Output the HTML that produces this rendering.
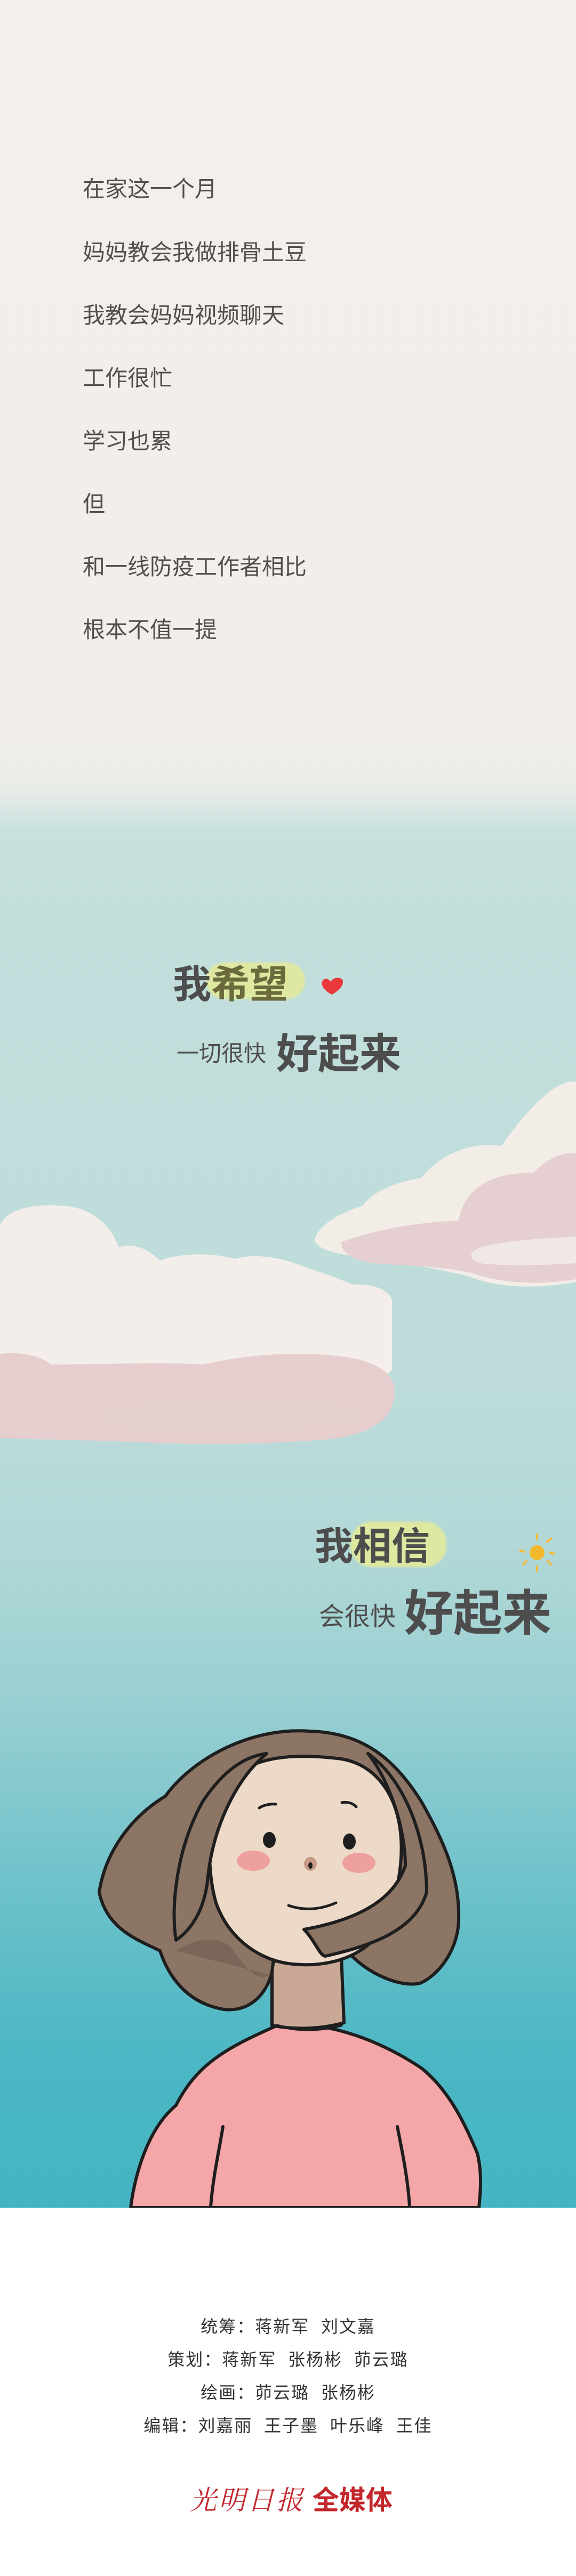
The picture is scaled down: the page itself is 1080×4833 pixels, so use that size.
<!DOCTYPE html>
<html><head><meta charset="utf-8">
<style>
*{margin:0;padding:0;box-sizing:border-box}
body{width:1080px;height:4833px;position:relative;overflow:hidden;font-family:"Liberation Sans","Noto Sans CJK SC",sans-serif;background:#fff}
#sky{position:absolute;left:0;top:0;width:1080px;height:4142px;background:linear-gradient(to bottom,#f3efeb 0px,#f2eeea 1380px,#e9ece8 1480px,#c8e0de 1560px,#c3dfdc 1700px,#bddcda 2600px,#b2d8d7 2900px,#98cfd2 3200px,#6cc1ca 3550px,#4cb7c4 3850px,#45b4c2 4142px)}
.t{position:absolute;color:#524e4a;white-space:nowrap;line-height:1}
.p{left:155px;font-size:42px}
.hl{position:absolute;background:#dfe8a0;border-radius:40px;filter:blur(2px)}
</style></head>
<body>
<div id="sky"></div>

<div class="t p" style="top:334px">在家这一个月</div>
<div class="t p" style="top:453px">妈妈教会我做排骨土豆</div>
<div class="t p" style="top:571px">我教会妈妈视频聊天</div>
<div class="t p" style="top:689px">工作很忙</div>
<div class="t p" style="top:807px">学习也累</div>
<div class="t p" style="top:925px">但</div>
<div class="t p" style="top:1043px">和一线防疫工作者相比</div>
<div class="t p" style="top:1161px">根本不值一提</div>

<svg style="position:absolute;left:0;top:0" width="1080" height="4142">
  <g>
    <path d="M590 2325 C600 2295 640 2275 680 2262 C700 2235 740 2218 790 2210 C820 2170 880 2140 940 2150 C975 2100 1040 2020 1080 2030 L1080 2405 C1000 2420 930 2415 880 2395 C820 2380 760 2370 700 2362 C640 2355 590 2345 590 2325 Z" fill="#f3ede8"/>
    <path d="M640 2330 C700 2310 760 2295 860 2290 C870 2230 920 2200 1000 2200 C1030 2170 1060 2160 1080 2165 L1080 2400 C1020 2410 950 2410 890 2390 C830 2375 760 2375 700 2370 C660 2365 640 2350 640 2330 Z" fill="#e6cfd1"/>
    <path d="M890 2345 C920 2330 990 2325 1080 2320 L1080 2370 C1000 2375 940 2375 900 2370 C880 2365 880 2352 890 2345 Z" fill="#f0e8e4"/>
  </g>
  <g>
    <path d="M0 2300 C10 2270 60 2258 110 2262 C170 2262 210 2300 222 2340 C250 2330 280 2345 300 2365 C340 2350 400 2350 440 2362 C480 2350 530 2360 580 2380 C610 2390 640 2400 660 2410 C700 2408 730 2420 735 2440 L735 2570 C700 2610 600 2620 500 2612 C380 2615 250 2610 150 2600 C80 2600 30 2600 0 2595 Z" fill="#f4eeea"/>
    <path d="M0 2540 C40 2535 80 2545 95 2560 C200 2560 300 2555 380 2560 C470 2540 560 2535 640 2545 C690 2550 740 2570 740 2610 C740 2660 700 2690 620 2700 C500 2710 380 2712 250 2705 C150 2702 60 2700 0 2698 Z" fill="#e6cecf"/>
    <path d="M200 2640 C300 2625 460 2620 620 2630 C690 2635 700 2660 650 2675 C520 2690 340 2690 220 2680 C180 2670 180 2648 200 2640 Z" fill="#e3d2cc" opacity="0.8"/>
  </g>
</svg>

<div class="hl" style="left:386px;top:1806px;width:186px;height:68px"></div>
<div class="t" style="left:324px;top:1812px;font-size:72px;font-weight:bold;color:#4d4d4d">我<span style="color:#6a6a3c">希望</span></div>
<svg style="position:absolute;left:600px;top:1830px" width="48" height="40"><path d="M22 36 C8 28 2 20 4 12 C6 5 15 4 20 12 C24 4 36 2 42 8 C46 16 38 28 22 36 Z" fill="#e8383c"/></svg>
<div class="t" style="left:331px;top:1956px;font-size:42px;color:#4d4d4d">一切很快</div>
<div class="t" style="left:518px;top:1938px;font-size:78px;font-weight:bold;color:#4d4d4d">好起来</div>

<div class="hl" style="left:657px;top:2855px;width:180px;height:85px"></div>
<div class="t" style="left:590px;top:2866px;font-size:72px;font-weight:bold;color:#4d4d4d">我相信</div>
<svg style="position:absolute;left:967px;top:2873px" width="80" height="80">
  <circle cx="40" cy="40" r="14" fill="#f3b82e"/>
  <g stroke="#f3bd3a" stroke-width="4" stroke-linecap="round">
    <line x1="40" y1="6" x2="40" y2="14"/><line x1="40" y1="66" x2="40" y2="74"/>
    <line x1="8" y1="36" x2="16" y2="38"/><line x1="64" y1="40" x2="72" y2="42"/>
    <line x1="14" y1="62" x2="20" y2="56"/><line x1="60" y1="56" x2="66" y2="62"/>
    <line x1="58" y1="20" x2="66" y2="14"/>
  </g>
</svg>
<div class="t" style="left:598px;top:3010px;font-size:48px;color:#4d4d4d">会很快</div>
<div class="t" style="left:758px;top:2982px;font-size:92px;font-weight:bold;color:#4d4d4d">好起来</div>

<svg style="position:absolute;left:0;top:3200px" width="1080" height="942" stroke-linejoin="round" stroke-linecap="round">
  <path d="M245 942 C250 900 270 800 330 750 C370 670 430 640 520 600 C600 590 700 620 790 680 C840 720 870 780 895 840 C905 880 900 920 898 942 Z" fill="#f5a6a8" stroke="#1e1e1e" stroke-width="6"/>
  <path d="M510 480 L510 600 C560 610 610 605 645 595 L640 470 Z" fill="#c9a896" stroke="#1e1e1e" stroke-width="6"/>
  <path d="M580 48 C470 40 360 100 310 170 C260 200 200 260 186 350 C200 420 260 440 300 460 C320 520 360 560 420 570 C470 575 500 540 510 500 L520 420 L650 420 L660 470 C700 510 760 530 790 520 C830 500 860 450 860 400 C862 320 830 250 790 180 C740 100 680 50 580 48 Z" fill="#8c7565" stroke="#1e1e1e" stroke-width="6"/>
  <path d="M330 460 C360 440 400 430 430 450 C460 490 480 520 505 505" fill="#6e5a50" opacity="0.6"/>
  <path d="M420 150 C470 90 560 90 640 100 C700 110 740 160 750 230 C760 300 740 390 700 440 C660 480 600 490 550 485 C490 480 430 440 405 370 C385 300 390 200 420 150 Z" fill="#ecd9c7" stroke="#1e1e1e" stroke-width="6"/>
  <path d="M690 90 C730 140 760 230 760 300 C740 360 680 400 570 420 C590 440 600 470 610 470 C700 450 780 420 800 350 C800 250 760 140 690 90 Z" fill="#8c7565" stroke="#1e1e1e" stroke-width="6"/>
  <path d="M500 90 C440 140 400 230 390 320 C385 380 360 420 330 440 C320 380 330 270 380 180 C420 120 460 95 500 90 Z" fill="#8c7565" stroke="#1e1e1e" stroke-width="6"/>
  <path d="M486 192 C495 186 508 184 517 185" fill="none" stroke="#1e1e1e" stroke-width="5"/>
  <path d="M641 182 C652 180 662 183 668 190" fill="none" stroke="#1e1e1e" stroke-width="5"/>
  <ellipse cx="505" cy="252" rx="12" ry="15" fill="#1e1e1e"/>
  <ellipse cx="655" cy="255" rx="12" ry="15" fill="#1e1e1e"/>
  <ellipse cx="475" cy="291" rx="31" ry="19" fill="#eea09f"/>
  <ellipse cx="673" cy="295" rx="31" ry="19" fill="#eea09f"/>
  <ellipse cx="582" cy="297" rx="12" ry="13" fill="#c99a88"/>
  <ellipse cx="582" cy="300" rx="4" ry="6" fill="#1e1e1e"/>
  <path d="M541 375 C570 385 600 383 630 370" fill="none" stroke="#1e1e1e" stroke-width="5"/>
  <path d="M418 790 C410 840 400 880 395 940" fill="none" stroke="#1e1e1e" stroke-width="6"/>
  <path d="M745 790 C755 840 765 890 768 940" fill="none" stroke="#1e1e1e" stroke-width="6"/>
  <path d="M520 600 C560 612 600 610 640 600" fill="none" stroke="#1e1e1e" stroke-width="5"/>
</svg>

<div style="position:absolute;left:0;top:4142px;width:1080px;height:691px;background:#fff"></div>
<div style="position:absolute;left:0;top:4334px;width:1080px;text-align:center;font-size:32px;line-height:62px;color:#333;letter-spacing:2px">
  <div>统筹：蒋新军&nbsp;&nbsp;刘文嘉</div>
  <div>策划：蒋新军&nbsp;&nbsp;张杨彬&nbsp;&nbsp;茆云璐</div>
  <div>绘画：茆云璐&nbsp;&nbsp;张杨彬</div>
  <div>编辑：刘嘉丽&nbsp;&nbsp;王子墨&nbsp;&nbsp;叶乐峰&nbsp;&nbsp;王佳</div>
</div>
<div style="position:absolute;left:356px;top:4662px;font-size:50px;color:#c3262b;white-space:nowrap;line-height:1"><span style="font-family:'Noto Serif CJK SC',serif;font-style:italic;letter-spacing:4px">光明日报</span> <b>全媒体</b></div>
</body></html>
